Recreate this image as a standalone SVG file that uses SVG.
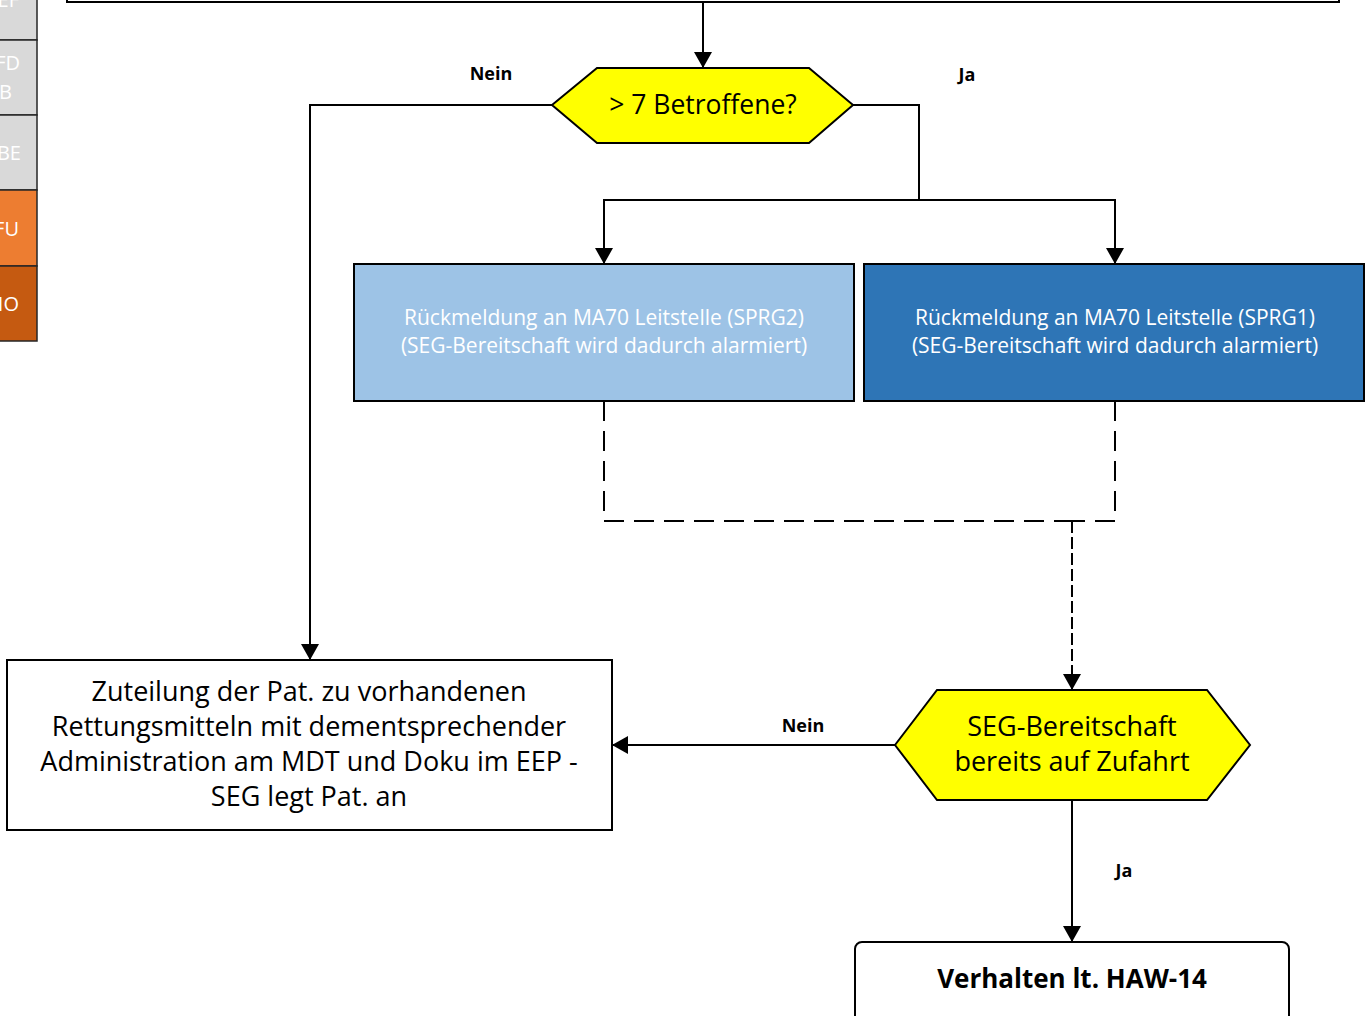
<svg xmlns="http://www.w3.org/2000/svg" width="1365" height="1016" viewBox="0 0 1365 1016">
<style>
.lane{stroke:#262626;stroke-width:1.5}
.lt{font-family:"Open Sans","Noto Sans",sans-serif;font-size:20px;fill:#ffffff;text-anchor:end}
.box{stroke:#000;stroke-width:2}
.hex{fill:#ffff00;stroke:#000;stroke-width:2}
.t{font-family:"Open Sans","Noto Sans",sans-serif;fill:#000;text-anchor:middle}
.bt{font-family:"Open Sans","Noto Sans",sans-serif;fill:#ffffff;text-anchor:middle;font-size:21px}
.lbl{font-family:"Open Sans","Noto Sans",sans-serif;font-weight:bold;font-size:18px;fill:#000;text-anchor:middle}
.c{fill:none;stroke:#000;stroke-width:2}
.d1{stroke-dasharray:20,10}
.d2{stroke-dasharray:12,4}
</style>
<defs>
<marker id="ah" markerWidth="16" markerHeight="18" refX="16" refY="9" orient="auto" markerUnits="userSpaceOnUse">
<path d="M0,0 L16,9 L0,18 Z" fill="#000"/>
</marker>
</defs>

<g id="lanes">
<rect class="lane" x="-20" y="-40" width="57" height="80" fill="#d9d9d9"/>
<rect class="lane" x="-20" y="40" width="57" height="75" fill="#d9d9d9"/>
<rect class="lane" x="-20" y="115" width="57" height="75" fill="#d9d9d9"/>
<rect class="lane" x="-20" y="190" width="57" height="76" fill="#ed7d31"/>
<rect class="lane" x="-20" y="266" width="57" height="75" fill="#c55a11"/>
<text class="lt" x="19" y="7">EF</text>
<text class="lt" x="20" y="70">FD</text>
<text class="lt" x="12" y="99">B</text>
<text class="lt" x="21" y="160">BE</text>
<text class="lt" x="19" y="236">FU</text>
<text class="lt" x="19" y="311">IO</text>
</g>

<g id="top-box">
<rect class="box" x="67" y="-50" width="1272" height="52" fill="#fff"/>
</g>

<g id="connectors">
<line class="c" x1="703" y1="2" x2="703" y2="68" marker-end="url(#ah)"/>
<polyline class="c" points="552,105 310,105 310,660" marker-end="url(#ah)"/>
<polyline class="c" points="853,105 919,105 919,200"/>
<polyline class="c" points="919,200 604,200 604,264" marker-end="url(#ah)"/>
<polyline class="c" points="919,200 1115,200 1115,264" marker-end="url(#ah)"/>
<polyline class="c d1" points="604,401 604,521 1072,521"/>
<polyline class="c d1" points="1115,401 1115,521 1072,521"/>
<line class="c d2" x1="1072" y1="521" x2="1072" y2="690" marker-end="url(#ah)"/>
<line class="c" x1="895" y1="745" x2="612" y2="745" marker-end="url(#ah)"/>
<line class="c" x1="1072" y1="800" x2="1072" y2="942" marker-end="url(#ah)"/>
<text class="lbl" x="491" y="80">Nein</text>
<text class="lbl" x="967" y="81">Ja</text>
<text class="lbl" x="803" y="732">Nein</text>
<text class="lbl" x="1124" y="877">Ja</text>
</g>

<g id="decision1">
<polygon class="hex" points="552,105 597,68 809,68 853,105 809,143 597,143"/>
<text class="t" x="703" y="114" font-size="26.5">&gt; 7 Betroffene?</text>
</g>

<g id="sprg2">
<rect class="box" x="354" y="264" width="500" height="137" fill="#9dc3e6"/>
<text class="bt" x="604" y="325">Rückmeldung an MA70 Leitstelle (SPRG2)</text>
<text class="bt" x="604" y="353">(SEG-Bereitschaft wird dadurch alarmiert)</text>
</g>

<g id="sprg1">
<rect class="box" x="864" y="264" width="500" height="137" fill="#2e75b6"/>
<text class="bt" x="1115" y="325">Rückmeldung an MA70 Leitstelle (SPRG1)</text>
<text class="bt" x="1115" y="353">(SEG-Bereitschaft wird dadurch alarmiert)</text>
</g>

<g id="zuteilung">
<rect class="box" x="7" y="660" width="605" height="170" fill="#fff"/>
<text class="t" x="309" y="701" font-size="27">Zuteilung der Pat. zu vorhandenen</text>
<text class="t" x="309" y="736" font-size="27">Rettungsmitteln mit dementsprechender</text>
<text class="t" x="309" y="771" font-size="27">Administration am MDT und Doku im EEP -</text>
<text class="t" x="309" y="806" font-size="27">SEG legt Pat. an</text>
</g>

<g id="decision2">
<polygon class="hex" points="895,745 937,690 1207,690 1250,745 1207,800 937,800"/>
<text class="t" x="1072" y="736" font-size="27">SEG-Bereitschaft</text>
<text class="t" x="1072" y="771" font-size="27">bereits auf Zufahrt</text>
</g>

<g id="haw14">
<rect class="box" x="855" y="942" width="434" height="100" rx="7" fill="#fff"/>
<text class="t" x="1072" y="988" font-size="26" font-weight="bold">Verhalten lt. HAW-14</text>
</g>
</svg>
